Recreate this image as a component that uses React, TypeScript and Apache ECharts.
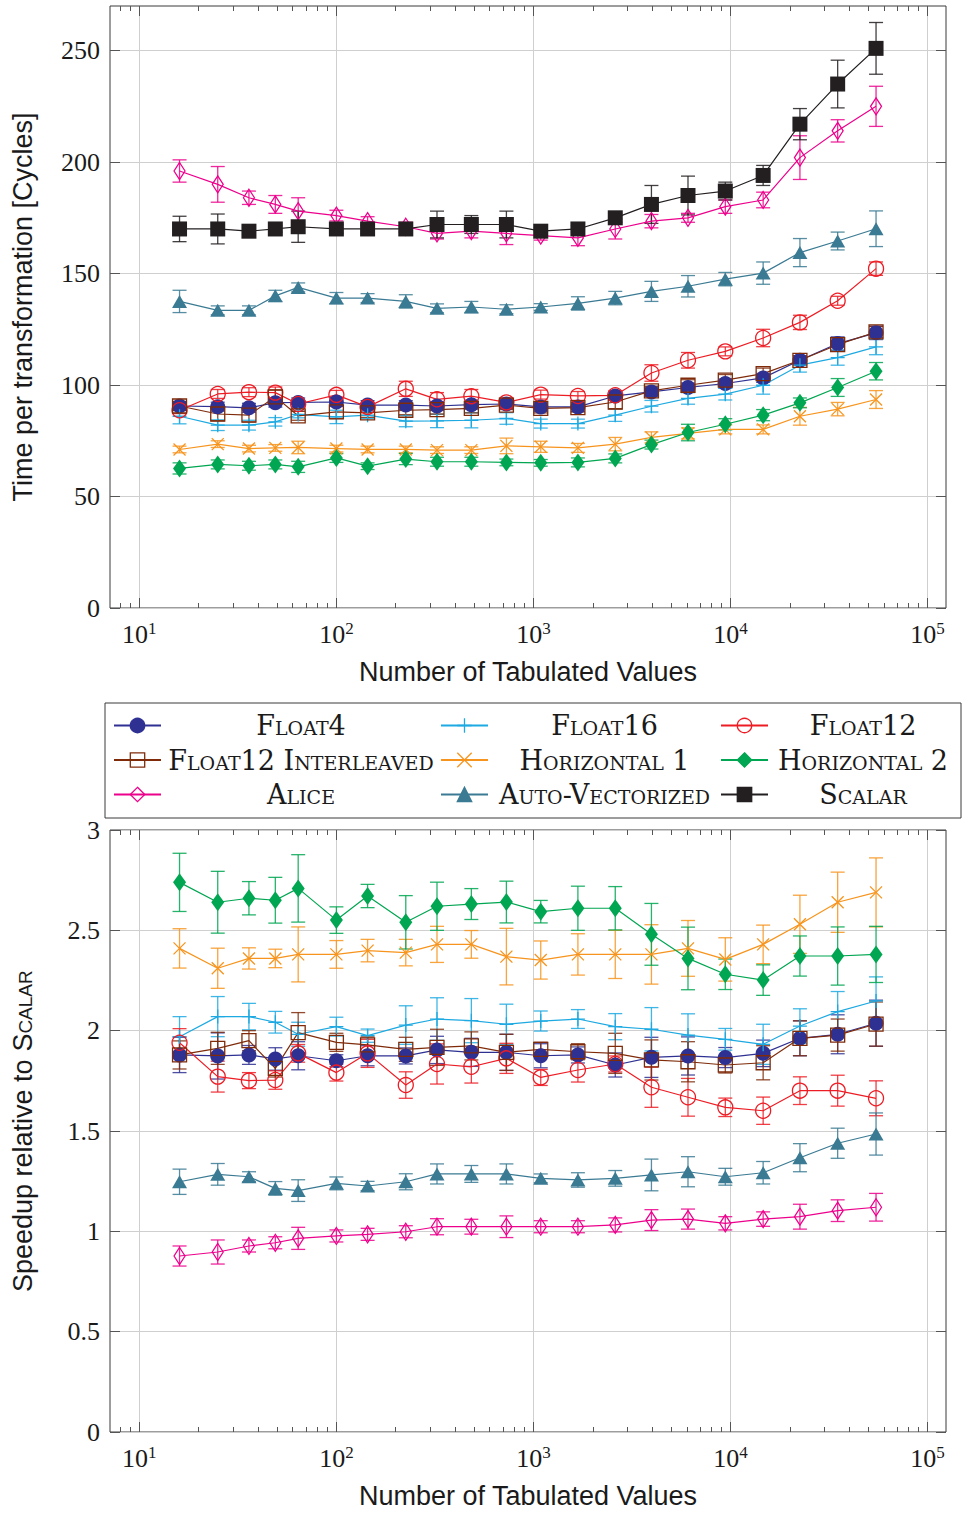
import React, { useEffect, useRef } from 'react';
import * as echarts from 'echarts';

// ---------------- data ----------------
const tabulated = [16, 25, 36, 49, 64, 100, 144, 225, 324, 484, 729, 1089, 1681, 2601, 3969, 6084, 9409, 14641, 22500, 34969, 54756];
const X_MIN = 7.1;
const X_MAX = 124000;
const xMajorTicks = [10, 100, 1000, 10000, 100000];
const xMinorMultipliers = [2, 3, 4, 5, 6, 7, 8, 9];
const xMinorDecades = [1, 10, 100, 1000, 10000];
const yTicksTime = [0, 50, 100, 150, 200, 250];
const yTicksSpeed = [0, 0.5, 1, 1.5, 2, 2.5, 3];

// time per transformation [cycles]
const tFloat4 = [90.6, 90.3, 89.8, 92.1, 92.2, 92.4, 91, 91, 90.6, 91.2, 91.5, 90.2, 90.2, 95.1, 96.9, 98.9, 100.7, 103.2, 111.1, 118.6, 123.4];
const tFloat4Err = [2, 2, 2, 2, 2, 2, 2, 2, 2, 2, 2, 2, 2, 2, 2, 2, 2, 2, 2, 3, 3];
const tFloat16 = [86, 82, 82, 83.5, 86.8, 85.7, 86.5, 83.8, 83.9, 84.2, 85, 82.7, 82.7, 86.5, 90.5, 94, 95.9, 99.9, 108.9, 112.3, 117.1];
const tFloat16Err = [3.4, 2.4, 2.2, 1.9, 1.5, 3, 1.5, 2.5, 3, 3.4, 2.6, 2, 2, 2.8, 2.6, 2.6, 2.6, 4, 3.1, 3.4, 3.5];
const tFloat12 = [88.7, 96, 96.8, 96.6, 91.5, 95.6, 90.2, 98.3, 93.6, 95, 92.2, 95.7, 95.1, 95.4, 105.4, 111.1, 115.1, 121.1, 128.1, 137.8, 152.2];
const tFloat12Err = [1.5, 2, 2, 2.5, 1.5, 2, 1.5, 3.4, 3, 3, 2, 2, 2, 2, 3.7, 3.5, 2, 3.9, 3.2, 2, 3];
const tInterleaved = [90.6, 87, 86.5, 94.7, 86.2, 88, 87.5, 88.7, 89, 89.5, 91, 89.5, 89.9, 92.4, 97.4, 99.9, 102.2, 105.1, 111.1, 118.1, 123.8];
const tInterleavedErr = [2, 3, 3, 3, 2, 3, 2, 2, 2, 2, 2, 2, 2, 3, 2, 2.5, 2.5, 2.5, 2, 3, 2.5];
const tHorizontal1 = [71.1, 73.5, 71.5, 71.8, 72, 71.5, 71.1, 71.1, 70.8, 70.8, 72.7, 72.3, 71.8, 73.5, 76.5, 78.3, 80.1, 80.1, 86, 89.2, 93.5];
const tHorizontal1Err = [1.5, 1.5, 1.5, 1.5, 2.8, 1.5, 1.5, 1.5, 1.5, 1.5, 3.5, 2.5, 2, 3, 2.5, 2.5, 2, 2, 4, 3, 4];
const tHorizontal2 = [62.6, 64.4, 63.8, 64.4, 63.3, 67.3, 63.6, 66.8, 65.6, 65.6, 65.3, 65.1, 65.3, 67.1, 73.3, 78.7, 82.4, 86.5, 92, 98.9, 106.2];
const tHorizontal2Err = [2.5, 2, 2, 2, 2.5, 2, 1.5, 2.5, 2, 2, 1.5, 1.5, 2, 2, 2, 3.7, 2.5, 2.5, 2.2, 4, 3.9];
const tAlice = [196, 190, 184, 181, 178, 176, 173.5, 171, 168, 169, 168, 167, 166, 170, 173.5, 175, 180, 183, 202, 214, 225];
const tAliceErr = [5, 8, 3, 4, 6, 2.4, 2, 2, 2.5, 3, 5, 2, 3.5, 4.5, 3, 2, 3, 3.5, 9.8, 5, 9];
const tAuto = [137.5, 133.5, 133.5, 140, 143.8, 139, 139, 137.5, 134.4, 135, 134, 135, 136.6, 139, 142, 144.3, 147.5, 150.2, 159.4, 164.6, 170.1];
const tAutoErr = [5, 2, 2, 2.5, 2, 2.5, 2, 3, 2, 2.5, 2, 1.5, 3, 3, 4.5, 4.8, 3, 5, 6.3, 4, 8];
const tScalar = [170, 170, 169, 170, 171, 170, 170, 170, 172, 172, 172, 169, 170, 175, 181, 185, 187, 194, 217, 235, 251];
const tScalarErr = [5.7, 6.7, 1.5, 1.5, 7, 2, 2, 1.5, 6, 4, 6, 1.5, 1.5, 2, 8.5, 8.7, 4, 4.5, 7, 10.7, 11.6];

// speedup relative to scalar
const sFloat4 = [1.879, 1.874, 1.879, 1.859, 1.875, 1.85, 1.875, 1.874, 1.904, 1.892, 1.892, 1.875, 1.879, 1.829, 1.867, 1.874, 1.866, 1.887, 1.962, 1.982, 2.037];
const sFloat4Err = [0.088, 0.115, 0.047, 0.056, 0.07, 0.03, 0.05, 0.04, 0.068, 0.07, 0.09, 0.06, 0.04, 0.06, 0.1, 0.095, 0.05, 0.066, 0.087, 0.097, 0.115];
const sFloat16 = [1.97, 2.07, 2.07, 2.042, 1.982, 2.02, 1.975, 2.028, 2.058, 2.05, 2.032, 2.048, 2.058, 2.02, 2.007, 1.978, 1.957, 1.932, 2.023, 2.095, 2.148];
const sFloat16Err = [0.1, 0.1, 0.066, 0.054, 0.06, 0.047, 0.033, 0.096, 0.106, 0.11, 0.1, 0.05, 0.047, 0.065, 0.108, 0.106, 0.054, 0.1, 0.086, 0.1, 0.12];
const sFloat12 = [1.94, 1.771, 1.751, 1.754, 1.887, 1.791, 1.887, 1.729, 1.834, 1.82, 1.862, 1.767, 1.804, 1.834, 1.718, 1.668, 1.618, 1.601, 1.701, 1.701, 1.663];
const sFloat12Err = [0.07, 0.077, 0.04, 0.046, 0.044, 0.042, 0.07, 0.066, 0.1, 0.081, 0.075, 0.04, 0.06, 0.04, 0.1, 0.094, 0.046, 0.068, 0.069, 0.077, 0.087];
const sInterleaved = [1.879, 1.912, 1.95, 1.812, 1.99, 1.942, 1.929, 1.907, 1.917, 1.924, 1.892, 1.907, 1.895, 1.887, 1.854, 1.845, 1.829, 1.84, 1.962, 1.978, 2.033];
const sInterleavedErr = [0.07, 0.08, 0.05, 0.043, 0.1, 0.045, 0.04, 0.06, 0.09, 0.07, 0.09, 0.035, 0.04, 0.1, 0.1, 0.1, 0.04, 0.085, 0.087, 0.08, 0.11];
const sHorizontal1 = [2.41, 2.311, 2.36, 2.36, 2.38, 2.38, 2.399, 2.389, 2.43, 2.43, 2.369, 2.352, 2.38, 2.38, 2.38, 2.41, 2.355, 2.43, 2.53, 2.64, 2.689];
const sHorizontal1Err = [0.098, 0.1, 0.053, 0.046, 0.137, 0.069, 0.056, 0.066, 0.09, 0.069, 0.141, 0.095, 0.103, 0.12, 0.148, 0.139, 0.108, 0.096, 0.145, 0.15, 0.172];
const sHorizontal2 = [2.739, 2.64, 2.66, 2.65, 2.709, 2.551, 2.671, 2.54, 2.62, 2.631, 2.641, 2.593, 2.61, 2.61, 2.48, 2.36, 2.281, 2.252, 2.372, 2.372, 2.38];
const sHorizontal2Err = [0.145, 0.154, 0.083, 0.114, 0.168, 0.066, 0.058, 0.133, 0.12, 0.077, 0.104, 0.056, 0.11, 0.108, 0.154, 0.156, 0.076, 0.076, 0.1, 0.145, 0.14];
const sAlice = [0.877, 0.897, 0.927, 0.943, 0.965, 0.977, 0.985, 0.998, 1.023, 1.023, 1.023, 1.023, 1.023, 1.032, 1.056, 1.061, 1.04, 1.061, 1.073, 1.103, 1.12];
const sAliceErr = [0.05, 0.06, 0.03, 0.03, 0.055, 0.03, 0.03, 0.03, 0.04, 0.037, 0.054, 0.03, 0.03, 0.035, 0.052, 0.05, 0.033, 0.036, 0.062, 0.054, 0.069];
const sAuto = [1.247, 1.284, 1.272, 1.214, 1.203, 1.239, 1.226, 1.247, 1.286, 1.286, 1.286, 1.264, 1.256, 1.264, 1.281, 1.297, 1.272, 1.292, 1.367, 1.439, 1.485];
const sAutoErr = [0.063, 0.054, 0.025, 0.034, 0.054, 0.032, 0.023, 0.04, 0.05, 0.042, 0.05, 0.022, 0.036, 0.039, 0.079, 0.075, 0.042, 0.056, 0.07, 0.075, 0.105];

const seriesNames = ['Float4', 'Float16', 'Float12', 'Float12 Interleaved', 'Horizontal 1', 'Horizontal 2', 'Alice', 'Auto-Vectorized', 'Scalar'];
const timeValues = [tFloat4, tFloat16, tFloat12, tInterleaved, tHorizontal1, tHorizontal2, tAlice, tAuto, tScalar];
const timeErrors = [tFloat4Err, tFloat16Err, tFloat12Err, tInterleavedErr, tHorizontal1Err, tHorizontal2Err, tAliceErr, tAutoErr, tScalarErr];
const speedValues = [sFloat4, sFloat16, sFloat12, sInterleaved, sHorizontal1, sHorizontal2, sAlice, sAuto, null];
const speedErrors = [sFloat4Err, sFloat16Err, sFloat12Err, sInterleavedErr, sHorizontal1Err, sHorizontal2Err, sAliceErr, sAutoErr, null];
const legendColumns = [
  ['Float4', 'Float12 Interleaved', 'Alice'],
  ['Float16', 'Horizontal 1', 'Auto-Vectorized'],
  ['Float12', 'Horizontal 2', 'Scalar'],
];

// ---------------- styles ----------------
const PLUS = 'path://M0,-1L0,1M-1,0L1,0';
const CROSS = 'path://M-1,-1L1,1M-1,1L1,-1';
const styles: any[] = [
  { color: '#2E3192', symbol: 'circle', size: 15, filled: true },
  { color: '#1DA9E1', symbol: PLUS, size: 14, filled: false },
  { color: '#ED1C24', symbol: 'circle', size: 15, filled: false },
  { color: '#7F2B0A', symbol: 'rect', size: 14, filled: false },
  { color: '#F7941D', symbol: CROSS, size: 12, filled: false },
  { color: '#00A651', symbol: 'diamond', size: [13, 18], filled: true },
  { color: '#EC008C', symbol: 'diamond', size: [11, 17], filled: false },
  { color: '#3A7A93', symbol: 'triangle', size: [15, 13], filled: true },
  { color: '#231F20', symbol: 'rect', size: 15, filled: true },
];

const SERIF = 'Liberation Serif';
const SANS = 'Liberation Sans';
const SMALLCAPS_SERIF = 'DejaVu Serif;font-variant:small-caps';
const SMALLCAPS_SANS = 'Liberation Sans;font-variant:small-caps';
const TEXT = '#1a1a1a';
const GRIDLINE = '#cfcfcf';
const FRAME = '#3a3a3a';

const L = (v: number) => Math.log10(v);

function lineSeries(i: number, xIdx: number, yIdx: number, ys: number[]) {
  const st = styles[i];
  return {
    type: 'line',
    name: seriesNames[i],
    xAxisIndex: xIdx,
    yAxisIndex: yIdx,
    data: tabulated.map((x, k) => [L(x), ys[k]]),
    symbol: st.symbol,
    symbolSize: st.size,
    showSymbol: true,
    silent: true,
    z: 3,
    lineStyle: { color: st.color, width: 1.2 },
    itemStyle: st.filled
      ? { color: st.color, borderColor: st.color, borderWidth: 0 }
      : { color: 'rgba(255,255,255,0)', borderColor: st.color, borderWidth: 1.3 },
    emphasis: { disabled: true },
  };
}

function errorSeries(i: number, xIdx: number, yIdx: number, ys: number[], es: number[]) {
  const color = styles[i].color;
  return {
    type: 'custom',
    name: seriesNames[i] + ' error',
    xAxisIndex: xIdx,
    yAxisIndex: yIdx,
    silent: true,
    z: 1,
    data: tabulated.map((x, k) => [L(x), ys[k] - es[k], ys[k] + es[k]]),
    encode: { x: 0, y: [1, 2] },
    renderItem: (_p: any, api: any) => {
      const x = api.value(0);
      const lo = api.coord([x, api.value(1)]);
      const hi = api.coord([x, api.value(2)]);
      const w = 7;
      const style = { stroke: color, lineWidth: 1.3, opacity: 0.85 };
      return {
        type: 'group',
        children: [
          { type: 'line', shape: { x1: lo[0], y1: lo[1], x2: hi[0], y2: hi[1] }, style },
          { type: 'line', shape: { x1: lo[0] - w, y1: lo[1], x2: lo[0] + w, y2: lo[1] }, style },
          { type: 'line', shape: { x1: hi[0] - w, y1: hi[1], x2: hi[0] + w, y2: hi[1] }, style },
        ],
      };
    },
  };
}

function xAxesFor(gridIndex: number) {
  const minor: number[] = [];
  xMinorDecades.forEach((d) => xMinorMultipliers.forEach((m) => {
    const v = m * d;
    if (v > X_MIN && v < X_MAX) minor.push(L(v));
  }));
  const major = xMajorTicks.map(L);
  const base: any = {
    type: 'value',
    gridIndex,
    min: L(X_MIN),
    max: L(X_MAX),
    axisLine: { show: false, onZero: false },
    splitLine: { show: false },
    axisLabel: { show: false },
  };
  const tickStyle = { color: '#555', width: 1 };
  return [
    {
      ...base,
      position: 'bottom',
      axisTick: { show: true, inside: true, length: 10, customValues: major, lineStyle: tickStyle },
      splitLine: { show: true, lineStyle: { color: GRIDLINE, width: 1 } },
      axisLabel: {
        show: true,
        customValues: major,
        margin: 12,
        formatter: (v: number) => `{b|10}{s|${Math.round(v)}}`,
        rich: {
          b: { fontFamily: SERIF, fontSize: 26, color: TEXT, lineHeight: 28 },
          s: { fontFamily: SERIF, fontSize: 17, color: TEXT, verticalAlign: 'top', lineHeight: 18 },
        },
      },
      name: 'Number of Tabulated Values',
      nameLocation: 'middle',
      nameGap: 50,
      nameTextStyle: { fontFamily: SANS, fontSize: 27, color: TEXT },
    },
    { ...base, position: 'bottom', axisTick: { show: true, inside: true, length: 5, customValues: minor, lineStyle: tickStyle } },
    { ...base, position: 'top', axisTick: { show: true, inside: true, length: 10, customValues: major, lineStyle: tickStyle } },
    { ...base, position: 'top', axisTick: { show: true, inside: true, length: 5, customValues: minor, lineStyle: tickStyle } },
  ];
}

function yAxesFor(gridIndex: number, max: number, ticks: number[], name: any, nameRich: any) {
  const tickStyle = { color: '#555', width: 1 };
  const base: any = {
    type: 'value',
    gridIndex,
    min: 0,
    max,
    axisLine: { show: false, onZero: false },
  };
  return [
    {
      ...base,
      position: 'left',
      axisTick: { show: true, inside: true, length: 10, customValues: ticks, lineStyle: tickStyle },
      axisLabel: { show: true, customValues: ticks, margin: 10, fontFamily: SERIF, fontSize: 26, color: TEXT },
      splitLine: { show: true, lineStyle: { color: GRIDLINE, width: 1 } },
      name,
      nameLocation: 'middle',
      nameGap: 74,
      nameTextStyle: { fontFamily: SANS, fontSize: 27, color: TEXT, rich: nameRich },
    },
    {
      ...base,
      position: 'right',
      axisTick: { show: true, inside: true, length: 10, customValues: ticks, lineStyle: tickStyle },
      axisLabel: { show: false },
      splitLine: { show: false },
    },
  ];
}

function buildOption(): any {
  const series: any[] = [];
  seriesNames.forEach((_n, i) => {
    series.push(errorSeries(i, 0, 0, timeValues[i], timeErrors[i]));
  });
  seriesNames.forEach((_n, i) => {
    const sv = speedValues[i];
    const se = speedErrors[i];
    if (sv && se) series.push(errorSeries(i, 4, 2, sv, se));
  });
  seriesNames.forEach((_n, i) => {
    series.push(lineSeries(i, 0, 0, timeValues[i]));
  });
  seriesNames.forEach((_n, i) => {
    const sv = speedValues[i];
    if (sv) series.push(lineSeries(i, 4, 2, sv));
  });

  const colLefts = [113, 440, 720];
  const colWidths = [270, 223, 180];
  const legends = legendColumns.map((names, c) => ({
    show: true,
    orient: 'vertical',
    left: colLefts[c],
    top: 712,
    padding: 0,
    itemWidth: 47,
    itemHeight: 18,
    itemGap: 7.5,
    selectedMode: false,
    data: names,
    itemStyle: { borderWidth: 1.3 },
    formatter: (name: string) => `{c|${name}}`,
    textStyle: {
      rich: {
        c: {
          width: colWidths[c],
          align: 'center',
          lineHeight: 30,
          fontFamily: SMALLCAPS_SERIF,
          fontSize: 27,
          color: TEXT,
        },
      },
    },
  }));

  return {
    animation: false,
    backgroundColor: '#ffffff',
    grid: [
      { left: 110, top: 6, width: 836, height: 602, show: true, borderColor: FRAME, borderWidth: 1, backgroundColor: 'transparent' },
      { left: 110, top: 830, width: 836, height: 602, show: true, borderColor: FRAME, borderWidth: 1, backgroundColor: 'transparent' },
    ],
    xAxis: [...xAxesFor(0), ...xAxesFor(1)],
    yAxis: [
      ...yAxesFor(0, 270, yTicksTime, 'Time per transformation [Cycles]', undefined),
      ...yAxesFor(1, 3, yTicksSpeed, '{a|Speedup relative to }{b|Scalar}', {
        a: { fontFamily: SANS, fontSize: 27, color: TEXT },
        b: { fontFamily: SMALLCAPS_SANS, fontSize: 27, color: TEXT, width: 82 },
      }),
    ],
    legend: legends,
    graphic: [
      {
        type: 'rect',
        silent: true,
        z: 0,
        shape: { x: 105, y: 703, width: 856, height: 115 },
        style: { fill: 'none', stroke: FRAME, lineWidth: 1 },
      },
    ],
    series,
  };
}

export default function App() {
  const ref = useRef<HTMLDivElement>(null);
  useEffect(() => {
    document.body.style.margin = '0';
    const chart = echarts.init(ref.current as HTMLDivElement, null, { renderer: 'svg' });
    chart.setOption(buildOption());
    return () => chart.dispose();
  }, []);
  return <div ref={ref} style={{ width: 962, height: 1514, background: '#fff' }} />;
}
